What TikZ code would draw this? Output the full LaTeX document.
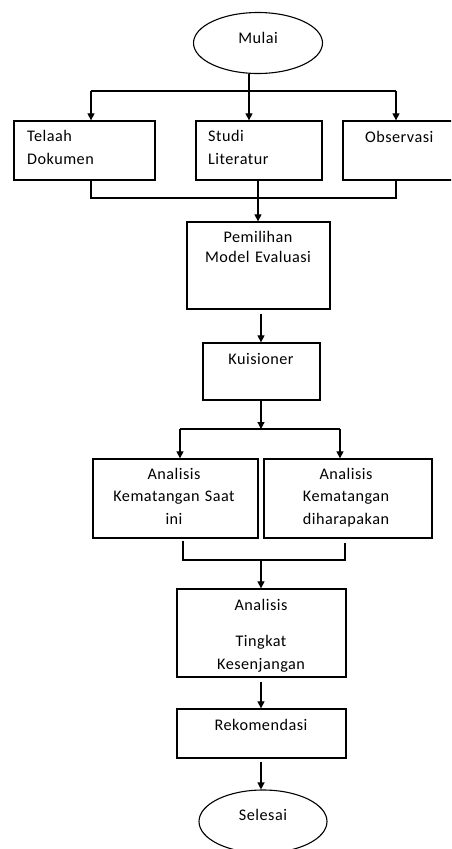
\documentclass[tikz,border=0pt]{standalone}
\usepackage{fontspec}
\setmainfont{Carlito}[LetterSpace=3]
\usetikzlibrary{arrows.meta,shapes.geometric,calc}
\begin{document}
\begin{tikzpicture}[x=1pt,y=-1pt,
  box/.style={draw, line width=1.3pt, inner sep=0pt},
  oval/.style={draw, ellipse, line width=1.1pt, inner sep=0pt},
  txt/.style={inner sep=0pt, text=black, font=\fontsize{16.2}{22.5}\selectfont},
  ln/.style={line width=1.2pt},
  arr/.style={line width=1.2pt, -{Triangle[length=7pt,width=7pt]}}]
\clip (0,0) rectangle (451,849);
\fill[white] (0,0) rectangle (451,849);
% shapes
\node[oval, minimum width=129pt, minimum height=61pt] (mulai) at (258,43) {};
\node[box, minimum width=141pt, minimum height=59pt] (telaah) at (84.5,150.5) {};
\node[box, minimum width=126pt, minimum height=59pt] (studi) at (259,150.5) {};
\node[box, minimum width=122pt, minimum height=59pt] (obs) at (404,150.5) {};
\node[box, minimum width=143pt, minimum height=87pt] (pemilihan) at (258.5,265.5) {};
\node[box, minimum width=117pt, minimum height=57pt] (kuis) at (261.5,371.5) {};
\node[box, minimum width=165pt, minimum height=79pt] (kini) at (175.5,498.5) {};
\node[box, minimum width=168pt, minimum height=79pt] (harap) at (348,498.5) {};
\node[box, minimum width=169pt, minimum height=88pt] (tingkat) at (261.5,633) {};
\node[box, minimum width=169pt, minimum height=49pt] (rekom) at (261.5,733.5) {};
\node[oval, minimum width=128pt, minimum height=63pt] (selesai) at (263,821.5) {};
% texts
\node[txt, anchor=base] (mulaiT) at (258,43) {Mulai};
\node[txt, anchor=base west, text width=120pt, align=left] (telaahT) at (27,141.7) {Telaah\\Dokumen};
\node[txt, anchor=base west, text width=110pt, align=left] (studiT) at (208,141.7) {Studi\\Literatur};
\node[txt, anchor=base west] (obsT) at (365,142.5) {Observasi};
\node[txt, anchor=base, text width=140pt, align=center] (pemT) at (258,242.7) {Pemilihan\\[-2.5pt]Model Evaluasi};
\node[txt, anchor=base] (kuisT) at (261,364) {Kuisioner};
\node[txt, anchor=base, text width=160pt, align=center] (kiniT) at (174,479) {Analisis\\Kematangan Saat\\ini};
\node[txt, anchor=base, text width=160pt, align=center] (harapT) at (346,479) {Analisis\\Kematangan\\diharapakan};
\node[txt, anchor=base, text width=160pt, align=center] (tingT) at (261,610.7) {Analisis\\[13.5pt]Tingkat\\Kesenjangan};
\node[txt, anchor=base] (rekT) at (261,730.7) {Rekomendasi};
\node[txt, anchor=base] (selT) at (263,820) {Selesai};
% junctions
\coordinate (j1) at (249,91);
\coordinate (jl) at (91,91);
\coordinate (jr) at (396,91);
\coordinate (m1) at (91,198);
\coordinate (m2) at (258,198);
\coordinate (m3) at (396,198);
\coordinate (s0) at (261,429);
\coordinate (sl) at (180,429);
\coordinate (sr) at (340,429);
\coordinate (c0) at (261,560);
\coordinate (c1) at (183,560);
\coordinate (c2) at (345,560);
% connectors
\draw[ln] (mulai.south -| j1) -- (j1);
\draw[ln] (jl) -- (jr);
\draw[arr] (jl) -- (jl |- telaah.north);
\draw[arr] (j1) -- (j1 |- studi.north);
\draw[arr] (jr) -- (jr |- obs.north);
\draw[ln] (m1 |- telaah.south) -- (m1) -- (m3) -- (m3 |- obs.south);
\draw[ln] (m2 |- studi.south) -- (m2);
\draw[arr] (m2) -- (m2 |- pemilihan.north);
\draw[arr] ($(s0 |- pemilihan.south)+(0,4)$) -- (s0 |- kuis.north);
\draw[arr] (s0 |- kuis.south) -- (s0);
\draw[ln] (sl) -- (sr);
\draw[arr] (sl) -- (sl |- kini.north);
\draw[arr] (sr) -- (sr |- harap.north);
\draw[ln] ($(c1 |- kini.south)+(0,2)$) -- (c1) -- (c2) -- ($(c2 |- harap.south)+(0,4)$);
\draw[arr] (c0) -- (c0 |- tingkat.north);
\draw[arr] ($(c0 |- tingkat.south)+(0,4)$) -- (c0 |- rekom.north);
\draw[arr] ($(c0 |- rekom.south)+(0,3)$) -- (c0 |- selesai.north);
\end{tikzpicture}
\end{document}
